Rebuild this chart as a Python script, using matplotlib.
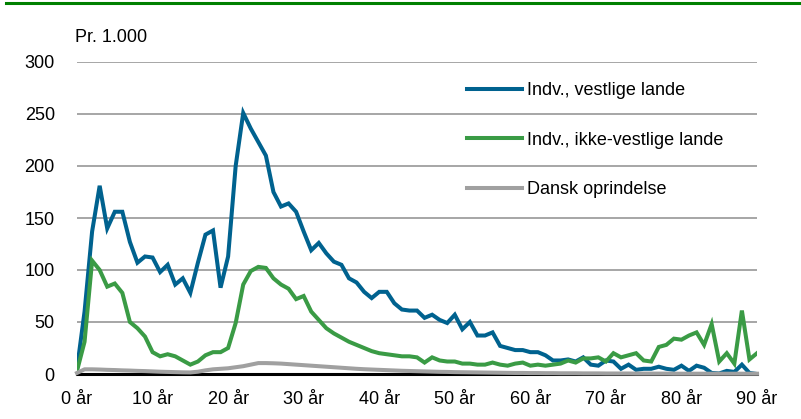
import numpy as np
import matplotlib
matplotlib.use("Agg")
import matplotlib.pyplot as plt
from matplotlib.lines import Line2D

plt.rcParams['font.family'] = ['Liberation Sans', 'DejaVu Sans']

# Alder 0-90 år, antal personer pr. 1.000
ages = list(range(0, 91))

vestlige = [5, 60, 137, 181, 140, 156, 156, 127, 107, 113,
            112, 98, 105, 86, 92, 78, 107, 134, 138, 83,
            113, 200, 251, 236, 223, 210, 175, 161, 164, 156,
            137, 119, 126, 116, 108, 105, 92, 88, 79, 73,
            79, 79, 68, 62, 61, 61, 54, 57, 52, 49,
            57, 43, 50, 37, 37, 40, 27, 25, 23, 23,
            21, 21, 18, 13, 13, 14, 12, 16, 9, 8,
            13, 12, 5, 9, 4, 5, 5, 7, 5, 4,
            8, 3, 8, 6, 1, 0.5, 3, 2, 9, 1,
            0]

ikke_vestlige = [3, 31, 109, 100, 84, 87, 78, 50, 44, 36,
                 21, 17, 19, 17, 13, 9, 12, 18, 21, 21,
                 25, 49, 86, 99, 103, 102, 92, 86, 82, 72,
                 75, 60, 52, 44, 39, 35, 31, 28, 25, 22,
                 20, 19, 18, 17, 17, 16, 11, 16, 13, 12,
                 12, 10, 10, 9, 9, 11, 9, 8, 10, 11,
                 8, 9, 8, 9, 10, 13, 11, 15, 15, 16,
                 12, 20, 16, 18, 20, 13, 12, 26, 28, 34,
                 33, 37, 40, 28, 48, 12, 20, 10, 61, 14,
                 20]

dansk = [1, 4.5, 4.5, 4.3, 4, 3.8, 3.5, 3.3, 3, 2.8,
         2.5, 2.2, 2, 1.8, 1.6, 1.5, 2.2, 3.5, 4.5, 5,
         5.5, 6.5, 7.5, 9, 10.5, 10.5, 10.3, 10, 9.5, 9,
         8.5, 8, 7.5, 7, 6.5, 6, 5.5, 5, 4.6, 4.3,
         4, 3.7, 3.4, 3.1, 2.9, 2.7, 2.5, 2.3, 2.1, 2,
         1.8, 1.7, 1.6, 1.5, 1.4, 1.3, 1.2, 1.1, 1, 1,
         0.9, 0.9, 0.8, 0.8, 0.7, 0.7, 0.7, 0.6, 0.6, 0.6,
         0.5, 0.5, 0.5, 0.5, 0.4, 0.4, 0.4, 0.4, 0.4, 0.3,
         0.3, 0.3, 0.3, 0.3, 0.3, 0.3, 0.3, 0.3, 0.3, 0.3,
         0.3]

xticks = list(range(0, 91, 10))
xlabels = [f"{t} år" for t in xticks]
yticks = [0, 50, 100, 150, 200, 250, 300]

fig = plt.figure(figsize=(8.01, 4.19), dpi=100)
ax = fig.add_axes([77/801, 1 - 374/419, 680/801, 312/419])

ax.plot(ages, vestlige, color='#00628f', lw=2.9, label='Indv., vestlige lande',
        zorder=3, solid_joinstyle='miter')
ax.plot(ages, ikke_vestlige, color='#3a9b45', lw=2.9, label='Indv., ikke-vestlige lande',
        zorder=3, solid_joinstyle='miter')
ax.plot(ages, dansk, color='#a0a0a0', lw=2.9, label='Dansk oprindelse',
        zorder=3, clip_on=False)

ax.set_xlim(0, 90)
ax.set_ylim(0, 300)
ax.set_xticks(xticks)
ax.set_xticklabels(xlabels)
ax.set_yticks(yticks)
ax.tick_params(axis='both', length=0, labelsize=13)
ax.tick_params(axis='y', pad=16)
ax.tick_params(axis='x', pad=12)

for s in ['top', 'right', 'left']:
    ax.spines[s].set_visible(False)
ax.spines['bottom'].set_color('black')
ax.spines['bottom'].set_linewidth(2.2)

ax.yaxis.grid(True, color='#a6a6a6', lw=1.4)
ax.set_axisbelow(True)

fig.text(75/801, 1 - 38/419, 'Pr. 1.000', fontsize=13, va='center', ha='left')

leg = ax.legend(loc='upper left', bbox_to_anchor=(467/801, 1 - 82/419),
                bbox_transform=fig.transFigure, frameon=False, fontsize=13,
                handlelength=3.05, handletextpad=0.3, labelspacing=1.8,
                borderpad=0, borderaxespad=0)

# grøn linje øverst
fig.add_artist(Line2D([6/801, 1], [1 - 3/419, 1 - 3/419], color='#008000', lw=2.2))

fig.savefig('out.png', dpi=100)
